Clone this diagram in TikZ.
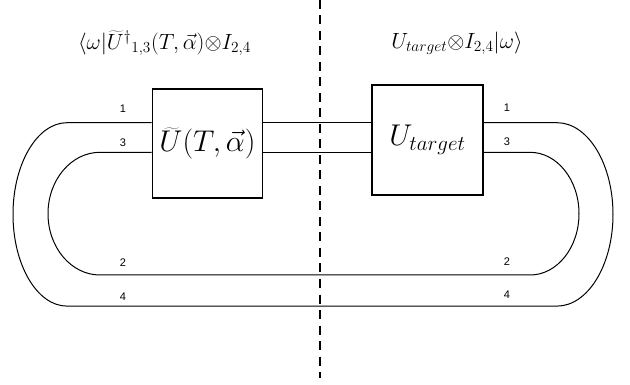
\RequirePackage{fix-cm}
\documentclass[tikz,border=0pt]{standalone}
\usepackage{fontspec}
\newfontfamily\labfont{Liberation Sans}
\begin{document}
\begin{tikzpicture}[x=1pt,y=-1pt,
  gate/.style={draw, line width=1.6pt, inner sep=0pt},
  wire/.style={line width=1pt},
  wlab/.style={font=\labfont\fontsize{11}{13}\selectfont, inner sep=0pt},
  sep/.style={line width=1.8pt, dash pattern=on 9pt off 6.5pt},
  eq/.style={font=\fontsize{22}{24}\selectfont, inner sep=0pt},
  gtxt/.style={font=\fontsize{30}{32}\selectfont}]
\useasboundingbox (0,0) rectangle (630,385);
% separator
\coordinate (s0) at (320,0);
\coordinate (s1) at (320,378);
% gates
\node[gate, minimum width=110pt, minimum height=109pt, gtxt] (L) at (207.5,143.5) {$\widetilde{U}(T,\vec{\alpha})$};
\node[gate, minimum width=111pt, minimum height=110pt, gtxt] (R) at (427.5,140) {$U_{target}$};
% wire level coordinates
\coordinate (w1) at (0,122.7);
\coordinate (w3) at (0,152.3);
% left loop corners
\coordinate (lo1) at (67,122.7);
\coordinate (lo4) at (67,306.1);
\coordinate (li3) at (100,152.3);
\coordinate (li2) at (100,275);
% right loop corners
\coordinate (ro1) at (557,122.7);
\coordinate (ro4) at (557,306.1);
\coordinate (ri3) at (530,152.3);
\coordinate (ri2) at (530,275);
% outer loop (wires 1 and 4)
\draw[wire] (L.west |- w1) -- (lo1)
  .. controls (37.2,122.7) and (13,163.8) .. (13,214.4)
  .. controls (13,265) and (37.2,306.1) .. (lo4)
  -- (ro4)
  .. controls (587.9,306.1) and (613,265) .. (613,214.4)
  .. controls (613,163.8) and (587.9,122.7) .. (ro1)
  -- (R.east |- w1);
% inner loop (wires 3 and 2)
\draw[wire] (L.west |- w3) -- (li3)
  .. controls (71.3,152.3) and (48,179.8) .. (48,213.7)
  .. controls (48,247.6) and (71.3,275) .. (li2)
  -- (ri2)
  .. controls (557.1,275) and (579,247.6) .. (579,213.7)
  .. controls (579,179.8) and (557.1,152.3) .. (ri3)
  -- (R.east |- w3);
% wires between gates
\draw[wire] (L.east |- w1) -- (R.west |- w1);
\draw[wire] (L.east |- w3) -- (R.west |- w3);
% separator line
\draw[sep] (s0) -- (s1);
% wire labels
\node[wlab] (a1) at (123,109) {1};
\node[wlab] (a3) at (123,143) {3};
\node[wlab] (a2) at (123,263) {2};
\node[wlab] (a4) at (123,297) {4};
\node[wlab] (b1) at (507,108) {1};
\node[wlab] (b3) at (507,142) {3};
\node[wlab] (b2) at (507,262) {2};
\node[wlab] (b4) at (507,295) {4};
% equations
\node[eq] (eL) at (164.5,43) {$\langle\omega|\widetilde{U}^{\dagger}{}_{1,3}(T,\vec{\alpha}){\otimes}I_{2,4}$};
\node[eq] (eR) at (457,43) {$U_{target}{\otimes}I_{2,4}|\omega\rangle$};
\end{tikzpicture}
\end{document}
